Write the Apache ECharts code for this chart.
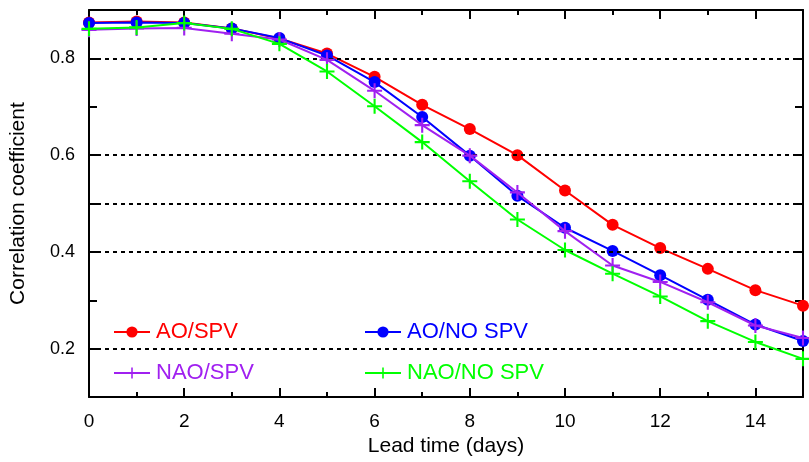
<!DOCTYPE html>
<html>
<head>
<meta charset="utf-8">
<script src="https://cdn.jsdelivr.net/npm/echarts@6/dist/echarts.min.js"></script>
<style>
  html, body { margin: 0; padding: 0; background: #fff; }
  #chart { width: 809px; height: 462px; }
</style>
</head>
<body>
<div id="chart"></div>
<script>
// ---- data ----
const days = [0, 1, 2, 3, 4, 5, 6, 7, 8, 9, 10, 11, 12, 13, 14, 15];
const aoSpv    = [0.874, 0.876, 0.874, 0.862, 0.841, 0.810, 0.762, 0.704, 0.654, 0.600, 0.527, 0.456, 0.408, 0.365, 0.321, 0.289];
const aoNoSpv  = [0.873, 0.874, 0.873, 0.862, 0.842, 0.806, 0.751, 0.679, 0.599, 0.516, 0.450, 0.402, 0.352, 0.301, 0.250, 0.216];
const naoSpv   = [0.859, 0.862, 0.863, 0.851, 0.839, 0.797, 0.733, 0.662, 0.599, 0.523, 0.443, 0.372, 0.338, 0.296, 0.248, 0.222];
const naoNoSpv = [0.861, 0.864, 0.873, 0.861, 0.830, 0.773, 0.701, 0.627, 0.546, 0.467, 0.404, 0.355, 0.308, 0.257, 0.214, 0.179];
const seriesNames = ['AO/SPV', 'AO/NO SPV', 'NAO/SPV', 'NAO/NO SPV'];
const xTickLabels = ['0', '2', '4', '6', '8', '10', '12', '14'];
const yTickLabels = ['0.2', '0.4', '0.6', '0.8'];
const dashedLevels = [0.2, 0.4, 0.5, 0.6, 0.8];
const xTitle = 'Lead time (days)';
const yTitle = 'Correlation coefficient';

// ---- styling ----
const FONT = '"Liberation Sans", Arial, sans-serif';
const PLUS = 'path://M4.3,0h1.4v4.3h4.3v1.4h-4.3v4.3h-1.4v-4.3h-4.3v-1.4h4.3z';
const colors = ['#ff0000', '#0000ff', '#a020f0', '#00ff00'];
const symbols = ['circle', 'circle', PLUS, PLUS];
const symbolSizes = [12, 12, 15, 15];
const values = [aoSpv, aoNoSpv, naoSpv, naoNoSpv];

const chart = echarts.init(document.getElementById('chart'), null, { renderer: 'canvas' });

function xAxisDef(pos, interval, tickLen, showLabels, extra) {
  return Object.assign({
    type: 'value', position: pos, min: 0, max: 15, interval: interval,
    axisLine: { show: true, onZero: false, lineStyle: { color: '#000', width: 2 } },
    axisTick: { show: true, inside: true, length: tickLen, lineStyle: { color: '#000', width: 2 } },
    axisLabel: {
      show: showLabels, margin: 15, color: '#000', fontSize: 19, fontFamily: FONT,
      showMaxLabel: false,
      formatter: function (v) { const s = String(v); return xTickLabels.indexOf(s) >= 0 ? s : ''; }
    },
    splitLine: { show: false }
  }, extra || {});
}
function yAxisDef(pos, showLabels, extra) {
  return Object.assign({
    type: 'value', position: pos, min: 0.1, max: 0.9, interval: 0.1,
    axisLine: { show: true, onZero: false, lineStyle: { color: '#000', width: 2 } },
    axisTick: { show: true, inside: true, length: 8, lineStyle: { color: '#000', width: 2 } },
    axisLabel: {
      show: showLabels, margin: 14, color: '#000', fontSize: 18, fontFamily: FONT,
      formatter: function (v) { const s = v.toFixed(1); return yTickLabels.indexOf(s) >= 0 ? s : ''; }
    },
    splitLine: { show: false }
  }, extra || {});
}

const series = [{
  type: 'line', name: '_grid', data: [], xAxisIndex: 0, yAxisIndex: 0, z: 1, silent: true,
  markLine: {
    silent: true, symbol: ['none', 'none'], label: { show: false },
    lineStyle: { color: '#000', type: [4, 4], width: 2 },
    data: dashedLevels.map(v => ({ yAxis: v }))
  }
}];
values.forEach((vals, i) => {
  series.push({
    type: 'line', name: seriesNames[i], xAxisIndex: 0, yAxisIndex: 0, z: 3 + i,
    data: days.map((d, j) => [d, vals[j]]),
    symbol: symbols[i], symbolSize: symbolSizes[i], showAllSymbol: true,
    lineStyle: { color: colors[i], width: 2 },
    itemStyle: { color: colors[i] },
    emphasis: { disabled: true }, animation: false
  });
});

const legendPos = [[113, 321], [364, 321], [113, 362], [364, 362]];
const legends = seriesNames.map((n, i) => ({
  data: [n],
  left: legendPos[i][0], top: legendPos[i][1], padding: 0,
  itemWidth: 36, itemHeight: 14, itemGap: 0,
  textStyle: { color: colors[i], fontSize: 22, fontFamily: FONT, lineHeight: 22, padding: [0, 0, 0, 1] },
  selectedMode: false
}));

chart.setOption({
  animation: false,
  backgroundColor: '#fff',
  grid: { left: 88, right: 6, top: 10, bottom: 63, containLabel: false },
  legend: legends,
  xAxis: [
    xAxisDef('bottom', 1, 5, true, { name: xTitle, nameLocation: 'middle', nameGap: 36,
      nameTextStyle: { color: '#000', fontSize: 21, fontFamily: FONT } }),
    xAxisDef('bottom', 2, 9, false, { axisLine: { show: false } }),
    xAxisDef('top', 1, 5, false),
    xAxisDef('top', 2, 9, false, { axisLine: { show: false } })
  ],
  yAxis: [
    yAxisDef('left', true, { name: yTitle, nameLocation: 'middle', nameGap: 60,
      nameTextStyle: { color: '#000', fontSize: 21, fontFamily: FONT } }),
    yAxisDef('right', false)
  ],
  series: series
});
</script>
</body>
</html>
